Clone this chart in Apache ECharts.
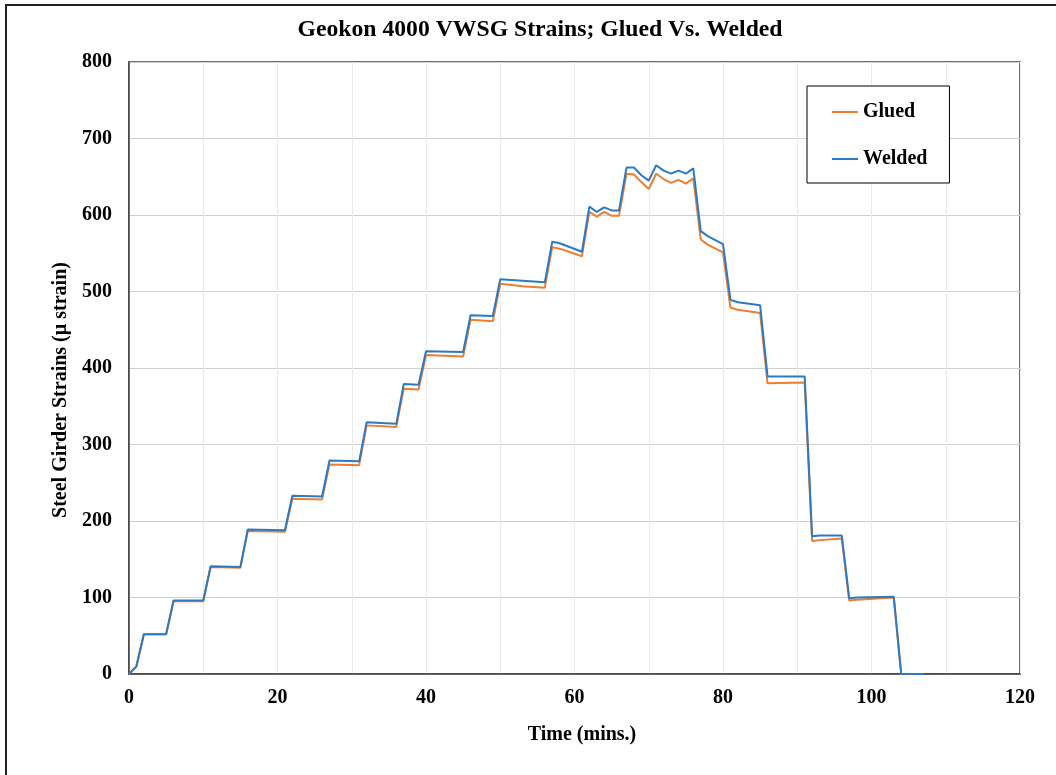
<!DOCTYPE html>
<html>
<head>
<meta charset="utf-8">
<script src="https://cdn.jsdelivr.net/npm/echarts@6/dist/echarts.min.js"></script>
<style>html,body{margin:0;padding:0;background:#fff}#c{width:1056px;height:775px}</style>
</head>
<body>
<div id="c"></div>
<script>
const times = [0,1,2,5,6,10,11,15,16,21,22,26,27,31,32,36,37,39,40,45,46,49,50,53,56,57,58,61,62,63,64,65,66,67,68,69,70,71,72,73,74,75,76,77,78,80,81,82,85,86,91,92,93,96,97,98,103,104,107];
const welded = [0,10,52,52,96,96,141,140,189,188,233,232,279,278,329,327,379,378,422,421,469,468,516,514,512,565,563,552,611,604,610,606,606,662,662,652,645,665,658,654,658,654,661,579,572,562,489,486,482,389,389,180,181,181,99,100,101,0,0];
const glued = [0,10,52,52,95,95,140,139,187,186,229,228,274,273,325,323,373,372,417,415,463,461,510,507,505,558,556,546,604,598,604,599,599,654,653,643,634,654,647,642,646,641,648,568,561,551,479,476,472,380,381,174,175,177,96,97,100,0,0];
const seriesNames = ['Glued','Welded'];
const titleText = 'Geokon 4000 VWSG Strains; Glued Vs. Welded';
const xTitle = 'Time (mins.)';
const yTitle = 'Steel Girder Strains (\u00b5 strain)';

const font = 'Liberation Serif';
const chart = echarts.init(document.getElementById('c'), null, {renderer:'canvas'});
chart.setOption({
  animation: false,
  backgroundColor: '#fff',
  graphic: [
    {type:'polyline', shape:{points:[[6,775],[6,5],[1056,5]]}, style:{stroke:'#222', lineWidth:2, fill:null}, silent:true},
    {type:'text', x:540, y:30, style:{text:titleText, font:'bold 23.7px "Liberation Serif"', fill:'#000', textAlign:'center', textVerticalAlign:'middle'}},
    {type:'text', x:582, y:735, style:{text:xTitle, font:'bold 20px "Liberation Serif"', fill:'#000', textAlign:'center', textVerticalAlign:'middle'}},
    {type:'text', x:61, y:390, rotation:Math.PI/2, style:{text:yTitle, font:'bold 20px "Liberation Serif"', fill:'#000', textAlign:'center', textVerticalAlign:'middle'}}
  ],
  grid: {left:129, top:62, right:36, bottom:101, show:true, borderColor:'#404040', borderWidth:1.5, backgroundColor:'transparent'},
  legend: {
    data: seriesNames,
    orient: 'vertical',
    left: 807, top: 86,
    padding: [15,22,13,25],
    itemGap: 25,
    itemWidth: 26, itemHeight: 2,
    itemTextGap: 2,
    icon: 'rect',
    borderColor: '#000', borderWidth: 1,
    backgroundColor: '#fff',
    textStyle: {fontFamily:font, fontWeight:'bold', fontSize:20, color:'#000', lineHeight:22}
  },
  xAxis: {
    type:'value', min:0, max:120, interval:20,
    axisLine:{show:true, onZero:false, lineStyle:{color:'#404040', width:1.5}},
    axisTick:{show:false},
    axisLabel:{fontFamily:font, fontWeight:'bold', fontSize:20, color:'#000', margin:14},
    splitLine:{show:true, lineStyle:{color:'#ebebeb', width:1}},
    minorTick:{show:false, splitNumber:2},
    minorSplitLine:{show:true, lineStyle:{color:'#ebebeb', width:1}}
  },
  yAxis: {
    type:'value', min:0, max:800, interval:100,
    axisLine:{show:true, lineStyle:{color:'#404040', width:1.5}},
    axisTick:{show:false},
    axisLabel:{fontFamily:font, fontWeight:'bold', fontSize:20, color:'#000', margin:17},
    splitLine:{show:true, lineStyle:{color:'#cfcfcf', width:1.2}}
  },
  series: [
    {name:seriesNames[0], type:'line', data: times.map((t,i)=>[t, glued[i]]), showSymbol:false, symbol:'none', color:'#ED7D31', lineStyle:{color:'#ED7D31', width:2}, z:2},
    {name:seriesNames[1], type:'line', data: times.map((t,i)=>[t, welded[i]]), showSymbol:false, symbol:'none', color:'#2A7AC4', lineStyle:{color:'#2A7AC4', width:2}, z:3}
  ]
});
</script>
</body>
</html>
